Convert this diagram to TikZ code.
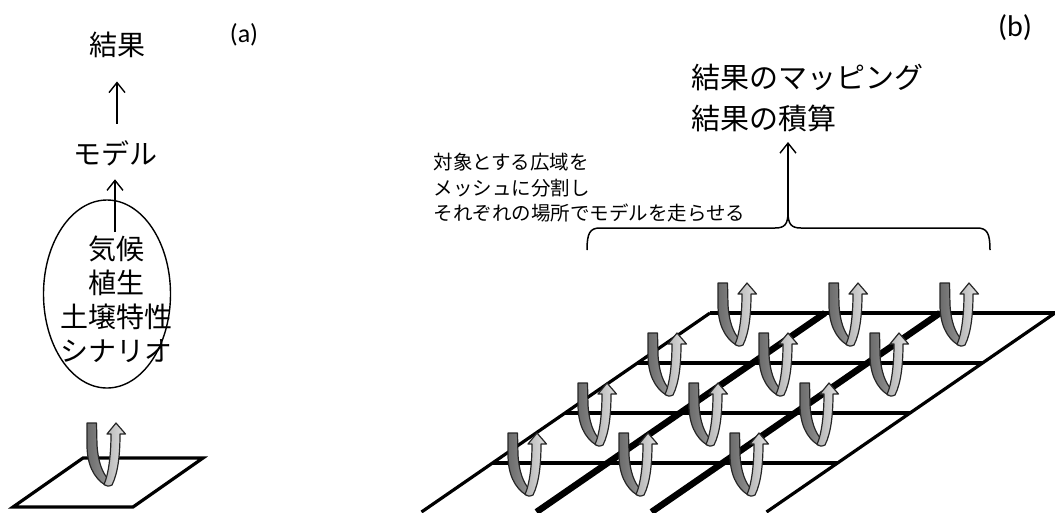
\documentclass[tikz,border=0pt]{standalone}
\usepackage{fontspec}
\setmainfont{Carlito}
\newfontfamily\jp{Noto Sans CJK JP}
\usetikzlibrary{arrows.meta,shapes.geometric}
\tikzset{
  arr/.style={line width=1.4pt,-{Straight Barb[length=10pt,width=16pt,line width=1.4pt]}},
  gthin/.style={line width=3.2pt},
  gthick/.style={line width=6.5pt},
  darkstrand/.style={left color=black!58,right color=black!42,draw=black!85,line width=1.2pt,line join=round},
  lightstrand/.style={left color=black!30,right color=black!12,draw=black!85,line width=1.2pt,line join=round},
  uarrow/.pic={
    \path[darkstrand] (0,0) -- (9.5,0) -- (10,22) .. controls (11,38) and (15,50) .. (22,57)
      -- (19,62.5) .. controls (6,55) and (0,40) .. (0,22) -- cycle;
    \path[lightstrand] (17,61.5) .. controls (22,50) and (24,30) .. (24,11) -- (20,11)
      -- (29,0) -- (38.5,11) -- (33,11) .. controls (33,32) and (31,50) .. (25,62)
      .. controls (22,63.5) and (19,63.5) .. (17,61.5) -- cycle;
  },
  jpbig/.style={font=\jp\fontsize{28}{34}\selectfont}
}
\begin{document}
\begin{tikzpicture}[x=1pt,y=-1pt]
\useasboundingbox (0,0) rectangle (1055,512);

% ---------- (a) ----------
\node[font=\fontsize{26}{30}\selectfont] (la) at (244,35) {(a)};
\node[jpbig] (res) at (117,45) {結果};
\node[jpbig] (model) at (115,153) {モデル};
\node[draw,ellipse,line width=1.4pt,minimum width=127pt,minimum height=188pt,inner sep=0pt] (ell) at (107,294) {};
\node[jpbig,align=center] (fac) at (116,299) {気候\\植生\\土壌特性\\シナリオ};
\draw[arr,shorten <=13pt,shorten >=20pt] (model.north -| res.south) -- (res.south);
\draw[arr,shorten >=10pt] (fac.north -| model.south) -- (model.south);

\draw[gthin,line join=miter] (13,507) -- (83,458) -- (203,458) -- (133,507) -- cycle;
\pic at (87,423) {uarrow};

% ---------- (b) ----------
\node[font=\fontsize{30}{34}\selectfont] (lb) at (1015,28) {(b)};
\node[font=\jp\fontsize{29}{41}\selectfont,anchor=west,align=left] (out) at (688,98) {結果のマッピング\\結果の積算};
\node[font=\jp\fontsize{19.5}{25.5}\selectfont,anchor=west,align=left] (desc) at (430,188) {対象とする広域を\\メッシュに分割し\\それぞれの場所でモデルを走らせる};

\coordinate (tip) at (788,212);
\coordinate (top) at (788,142);
\draw[line width=1.5pt] (587,250) .. controls (587,233) and (590,228) .. (600,228) -- (775,228)
  .. controls (785,228) and (788,224) .. (tip) .. controls (788,224) and (791,228) .. (801,228)
  -- (977,228) .. controls (987,228) and (990,233) .. (990,250);
\draw[arr] (tip) -- (top);

% grid
\draw[gthin] (710,313) -- (1056,313);
\draw[gthin] (637.5,363) -- (982.5,363);
\draw[gthin] (565,413) -- (910,413);
\draw[gthin] (492.5,463) -- (837.5,463);
\draw[gthin] (710,313) -- (421.5,512);
\draw[gthin] (1055,313) -- (766.5,512);
\draw[gthick] (825,313) -- (536.5,512);
\draw[gthick] (940,313) -- (651.5,512);

\foreach \r in {0,1,2,3}{
  \foreach \c in {0,1,2}{
    \pic at ({718+111*\c-70*\r},{283+50*\r}) {uarrow};
  }
}
\end{tikzpicture}
\end{document}
